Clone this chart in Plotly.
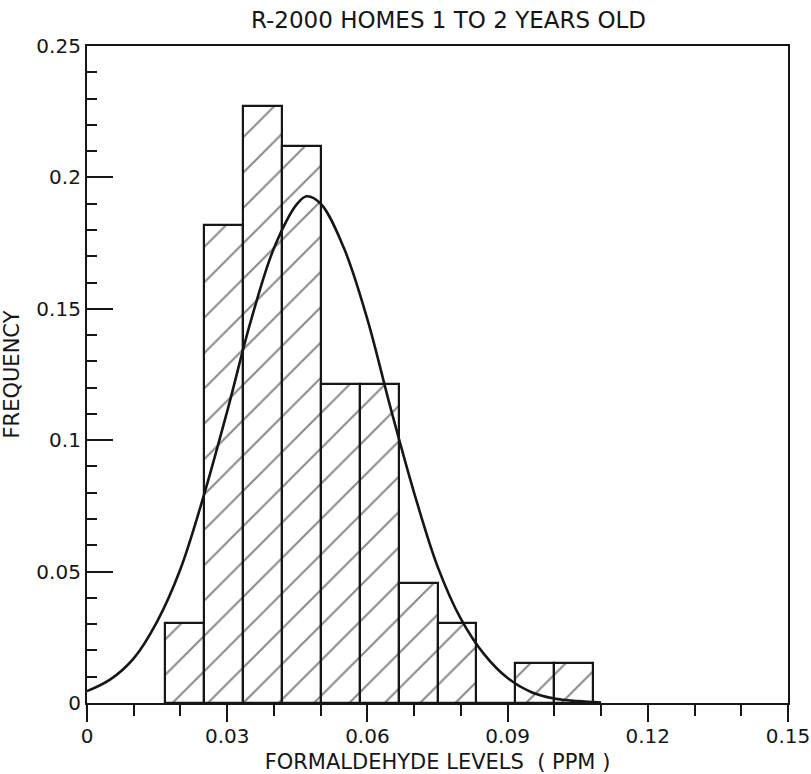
import plotly.graph_objects as go

# Histogram bins (left edges, PPM) and relative frequencies
bin_width = 1 / 120
bin_left = [0.01667, 0.025, 0.03333, 0.04167, 0.05, 0.05833, 0.06667, 0.075, 0.08333, 0.09167, 0.1]
frequency = [0.0303, 0.1818, 0.2273, 0.2121, 0.1212, 0.1212, 0.0455, 0.0303, 0.0, 0.0152, 0.0152]

# Fitted normal curve
curve_x = [0.0, 0.005, 0.01, 0.015, 0.02, 0.025, 0.03, 0.035, 0.04, 0.045, 0.047,
           0.05, 0.055, 0.06, 0.065, 0.07, 0.075, 0.08, 0.085, 0.09, 0.095, 0.1,
           0.105, 0.11]
curve_y = [0.0045, 0.0090, 0.0170, 0.031, 0.051, 0.079, 0.111, 0.145, 0.173, 0.190, 0.1928,
           0.190, 0.173, 0.146, 0.112, 0.080, 0.052, 0.032, 0.0185, 0.0095, 0.0042, 0.0017,
           0.0007, 0.0002]

x_tickvals = [0, 0.03, 0.06, 0.09, 0.12, 0.15]
x_ticktext = ["0", "0.03", "0.06", "0.09", "0.12", "0.15"]
y_tickvals = [0, 0.05, 0.1, 0.15, 0.2, 0.25]
y_ticktext = ["0", "0.05", "0.1", "0.15", "0.2", "0.25"]

INK = "#161616"
FONT = "DejaVu Sans"

fig = go.Figure()
fig.add_trace(go.Bar(
    x=bin_left, y=frequency, width=[bin_width] * len(bin_left), offset=0,
    marker=dict(color="white", line=dict(color=INK, width=2.2),
                pattern=dict(shape="/", fgcolor="#111111", bgcolor="white",
                             size=25, solidity=0.08)),
    showlegend=False, hoverinfo="skip",
))
fig.add_trace(go.Scatter(
    x=curve_x, y=curve_y, mode="lines", line=dict(color=INK, width=2.6, shape="spline"),
    showlegend=False, hoverinfo="skip", cliponaxis=True,
))

fig.update_layout(
    width=811, height=774,
    margin=dict(l=87, r=23, t=46, b=71, autoexpand=False),
    paper_bgcolor="white", plot_bgcolor="white",
    bargap=0,
    font=dict(family=FONT, color=INK),
    title=dict(text="R-2000 HOMES 1 TO 2 YEARS OLD", x=0.553, xanchor="center",
               y=0.974, yanchor="middle", font=dict(size=23, family=FONT, color=INK)),
)
fig.update_xaxes(
    range=[0, 0.15], tickvals=x_tickvals, ticktext=x_ticktext,
    showgrid=False, zeroline=False, automargin=False,
    showline=True, mirror=True, linecolor=INK, linewidth=2.2,
    ticks="outside", ticklen=17, tickwidth=2, tickcolor=INK,
    minor=dict(ticks="outside", dtick=0.01, ticklen=11, tickwidth=2, tickcolor=INK),
    tickfont=dict(size=20, family=FONT, color=INK),
    ticklabelstandoff=-3,
    title=dict(text="FORMALDEHYDE LEVELS  ( PPM )", font=dict(size=21, family=FONT, color=INK),
               standoff=7),
)
fig.update_yaxes(
    range=[0, 0.25], tickvals=y_tickvals, ticktext=y_ticktext,
    showgrid=False, zeroline=False, automargin=False,
    showline=True, mirror=True, linecolor=INK, linewidth=2.2,
    ticks="inside", ticklen=26, tickwidth=2, tickcolor=INK,
    minor=dict(ticks="inside", dtick=0.01, ticklen=10, tickwidth=2, tickcolor=INK),
    tickfont=dict(size=20, family=FONT, color=INK),
    ticklabelstandoff=0,
    title=dict(text="FREQUENCY", font=dict(size=21, family=FONT, color=INK), standoff=14),
)

fig.write_html("out.html")
